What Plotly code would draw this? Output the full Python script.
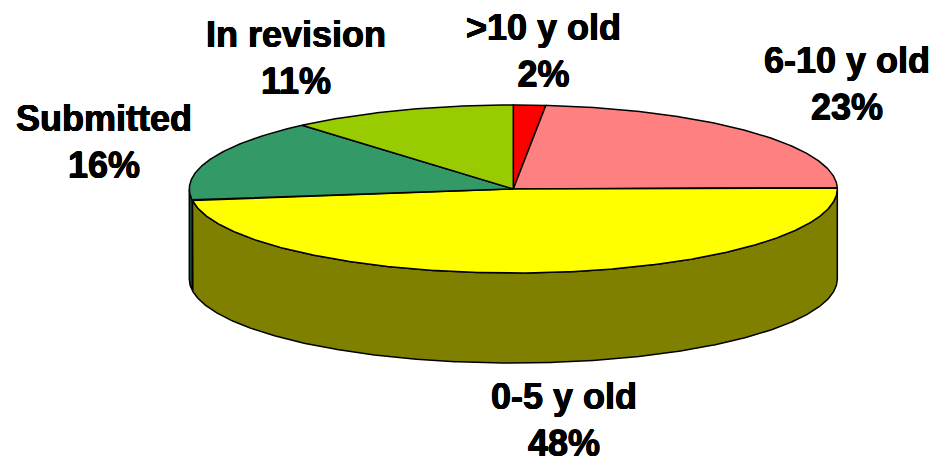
import numpy as np
import plotly.graph_objects as go

# Data, clockwise from 12 o'clock
categories = [">10 y old", "6-10 y old", "0-5 y old", "Submitted", "In revision"]
shares = [1.6, 23.1, 48.1, 15.9, 11.3]
percent_labels = ["2%", "23%", "48%", "16%", "11%"]

# Styling
top_colors = ["#FF0000", "#FF8080", "#FFFF00", "#339966", "#99CC00"]
side_colors = ["#800000", "#804040", "#808000", "#1A4D33", "#4D6600"]
label_pos = [(543, 51), (847, 84), (564, 420), (104, 142), (296, 58)]

W, H = 935, 458
CX, CY, RX, RY, DEPTH = 513.3, 189, 324, 84, 90
OUTLINE = dict(color="#000000", width=1.5)
TEXT_WEIGHT = "0.5px 0 0 #000, -0.5px 0 0 #000, 0 0.4px 0 #000, 0 -0.4px 0 #000"


def arc(t0, t1, dy=0):
    t = np.radians(np.linspace(t0, t1, max(int(abs(t1 - t0) * 2), 2)))
    return CX + RX * np.sin(t), CY - RY * np.cos(t) + dy


edges = np.concatenate([[0], np.cumsum(shares)]) * 3.6
fig = go.Figure()


def polygon(x, y, color):
    fig.add_trace(go.Scatter(
        x=x, y=y, mode="lines", fill="toself", fillcolor=color,
        line=OUTLINE, hoverinfo="skip", showlegend=False,
    ))


# Side wall: only the front half of the disc (90..270 degrees) is visible
for i in range(len(shares)):
    a, b = max(edges[i], 90), min(edges[i + 1], 270)
    if b > a:
        xt, yt = arc(a, b)
        xb, yb = arc(b, a, DEPTH)
        polygon(np.r_[xt, xb, xt[0]], np.r_[yt, yb, yt[0]], side_colors[i])

# Top face
for i in range(len(shares)):
    x, y = arc(edges[i], edges[i + 1])
    polygon(np.r_[CX, x, CX], np.r_[CY, y, CY], top_colors[i])

for name, pct, (lx, ly) in zip(categories, percent_labels, label_pos):
    fig.add_annotation(
        x=lx, y=ly, xref="x", yref="y", text=f"<b>{name}<br>{pct}</b>",
        showarrow=False, align="center", xanchor="center", yanchor="middle",
        font=dict(family="Liberation Sans", size=36, color="#000000", shadow=TEXT_WEIGHT),
    )

fig.update_layout(
    width=W, height=H, margin=dict(l=0, r=0, t=0, b=0),
    paper_bgcolor="#FFFFFF", plot_bgcolor="#FFFFFF",
    xaxis=dict(range=[0, W], visible=False, fixedrange=True),
    yaxis=dict(range=[H, 0], visible=False, fixedrange=True),
)
fig.write_html(
    "out.html", config={"displayModeBar": False},
    post_script="document.body.style.margin='0';document.body.style.overflow='hidden';",
)
